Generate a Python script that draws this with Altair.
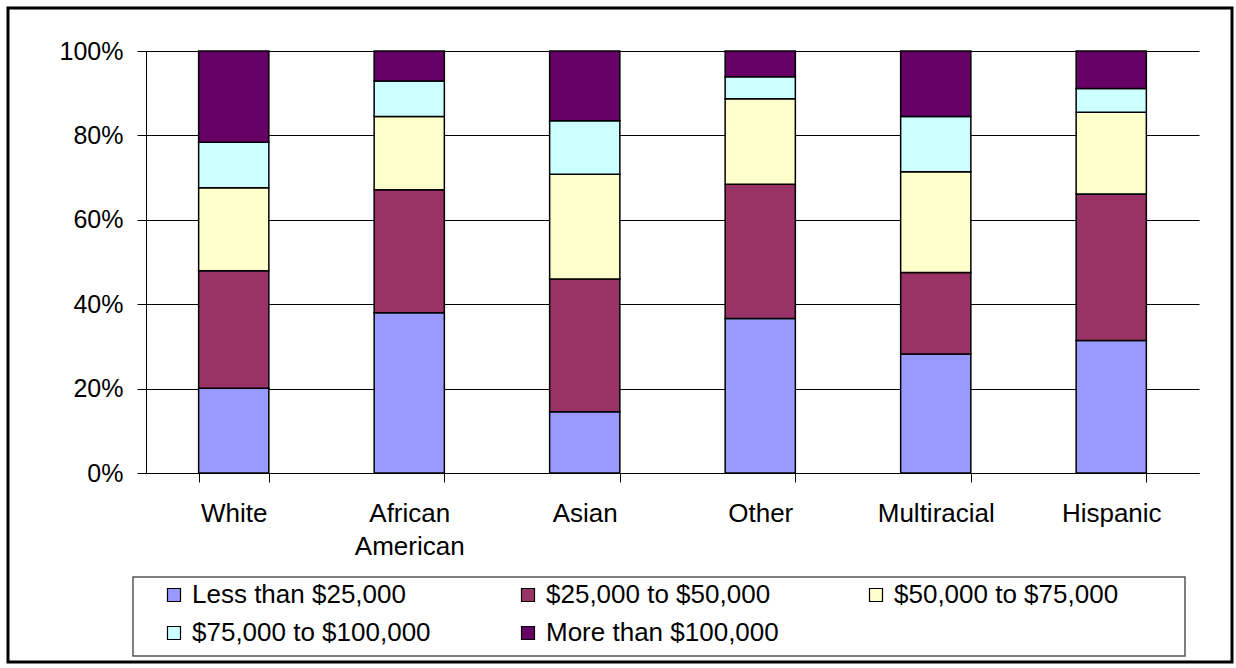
import altair as alt
import pandas as pd

groups = ["White", "African American", "Asian", "Other", "Multiracial", "Hispanic"]
brackets = ["Less than $25,000", "$25,000 to $50,000", "$50,000 to $75,000",
            "$75,000 to $100,000", "More than $100,000"]
colors = ["#9999FF", "#993366", "#FFFFCC", "#CCFFFF", "#660066"]

# percent share of each income bracket per group (bottom to top)
less_25k = [20.1, 38.0, 14.5, 36.6, 28.2, 31.4]
from_25_50k = [27.8, 29.1, 31.5, 31.8, 19.3, 34.7]
from_50_75k = [19.7, 17.4, 24.8, 20.3, 23.9, 19.4]
from_75_100k = [10.8, 8.4, 12.7, 5.2, 13.1, 5.6]
more_100k = [21.6, 7.1, 16.5, 6.1, 15.5, 8.9]

series = [less_25k, from_25_50k, from_50_75k, from_75_100k, more_100k]
rows = []
for bi, (b, vals) in enumerate(zip(brackets, series)):
    for g, v in zip(groups, vals):
        rows.append({"group": g, "bracket": b, "order": bi, "value": v})
df = pd.DataFrame(rows)

FONT = "Liberation Sans"

bars = alt.Chart(df).mark_bar(stroke="black", strokeWidth=1.5).encode(
    x=alt.X("group:N", sort=groups, title=None,
            scale=alt.Scale(paddingInner=0.6, paddingOuter=0.3),
            axis=alt.Axis(labelAngle=0, tickBand="extent", tickSize=9,
                          labelPadding=18, labelFontSize=26, labelFont=FONT,
                          labelColor="black", domainColor="black", tickColor="black",
                          labelExpr="split(datum.label, ' ')", labelLineHeight=33,
                          labelBaseline="top")),
    y=alt.Y("value:Q", stack="normalize", title=None,
            scale=alt.Scale(domain=[0, 1]),
            axis=alt.Axis(format=".0%", values=[0, 0.2, 0.4, 0.6, 0.8, 1.0],
                          tickSize=9, labelPadding=14, labelFontSize=25, labelFont=FONT,
                          labelColor="black", domainColor="black", tickColor="black",
                          grid=True, gridColor="black", gridWidth=1)),
    color=alt.Color("bracket:N", sort=brackets,
                    scale=alt.Scale(domain=brackets, range=colors),
                    legend=alt.Legend(title=None, orient="none", legendX=15, legendY=531,
                                      direction="horizontal",
                                      columns=3, columnPadding=84, rowPadding=12,
                                      symbolType="square", symbolSize=169,
                                      symbolStrokeColor="black", symbolStrokeWidth=1.2,
                                      symbolOpacity=1, labelOffset=5,
                                      labelFontSize=26, labelFont=FONT, labelColor="black",
                                      labelLimit=400, padding=0)),
    order=alt.Order("order:Q", sort="ascending"),
)

frame_data = alt.Data(values=[{"k": 1}])
outer_frame = alt.Chart(frame_data).mark_rect(fill=None, stroke="black", strokeWidth=3).encode(
    x=alt.value(-138), x2=alt.value(1086), y=alt.value(-43), y2=alt.value(611)
)
legend_frame = alt.Chart(frame_data).mark_rect(fill=None, stroke="#555555", strokeWidth=1.5).encode(
    x=alt.value(-13), x2=alt.value(1039), y=alt.value(526), y2=alt.value(605)
)

chart = alt.layer(bars, legend_frame, outer_frame).properties(
    width=1053, height=422,
    autosize=alt.AutoSizeParams(type="none"),
    padding={"left": 146, "top": 51, "right": 37, "bottom": 195},
    background="white",
).configure_view(stroke=None)

chart.save("out.html", embed_options={"renderer": "svg", "actions": False})
